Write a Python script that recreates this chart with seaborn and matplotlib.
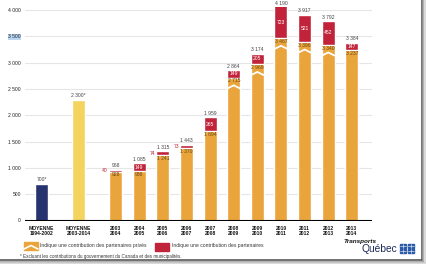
import matplotlib
matplotlib.use("Agg")
import matplotlib.pyplot as plt
from matplotlib.patches import Rectangle
from matplotlib.lines import Line2D
import seaborn as sns
import numpy as np

# data
avg_labels = ["MOYENNE\n1994-2002", "MOYENNE\n2003-2014"]
avg_values = [700, 2300]
avg_text = ["700*", "2 300*"]

years = ["2003\n2004", "2004\n2005", "2005\n2006", "2006\n2007", "2007\n2008",
         "2008\n2009", "2009\n2010", "2010\n2011", "2011\n2012", "2012\n2013",
         "2013\n2014"]
prive = [928, 936, 1241, 1370, 1694, 2715, 2969, 3467, 3396, 3340, 3237]
partenaires = [40, 149, 74, 73, 265, 149, 205, 723, 521, 452, 147]
totals = [968, 1085, 1315, 1443, 1959, 2864, 3174, 4190, 3917, 3792, 3384]
broken = [False] * 5 + [True] * 5 + [False]

NAVY = "#27336f"
YELLOW = "#f4d35f"
ORANGE = "#e9a43b"
RED = "#c0233a"
GRID = "#e6e6e6"

def fmt(v):
    return f"{v:,}".replace(",", " ")

sns.set_theme(style="white")
plt.rcParams["font.family"] = ["Liberation Sans", "DejaVu Sans"]

fig = plt.figure(figsize=(4.26, 2.64), dpi=100)
ax = fig.add_axes([25 / 426, 43.5 / 264, 347 / 426, 213.5 / 264])

ytop = 4060
x_year = np.arange(len(years))
x_avg = np.array([-3.13, -1.56])
w = 0.55

# bars
sns.barplot(x=x_avg[:1], y=avg_values[:1], native_scale=True, width=w,
            color=NAVY, saturation=1, ax=ax, zorder=2)
sns.barplot(x=x_avg[1:], y=avg_values[1:], native_scale=True, width=w,
            color=YELLOW, saturation=1, ax=ax, zorder=2)
sns.barplot(x=x_year, y=totals, native_scale=True, width=w,
            color=RED, saturation=1, ax=ax, zorder=2)
sns.barplot(x=x_year, y=prive, native_scale=True, width=w,
            color=ORANGE, saturation=1, ax=ax, zorder=3)

ax.set_xlim(-3.83, 10.85)
ax.set_ylim(0, ytop)
for s in ax.spines.values():
    s.set_visible(False)

# grid and baseline
for g in range(500, 4001, 500):
    ax.axhline(g, color=GRID, lw=0.8, zorder=0)
ax.axhline(0, color="black", lw=1.5, zorder=4)

yt = list(range(0, 4001, 500))
ax.set_yticks(yt)
ax.set_yticklabels([fmt(v) for v in yt], fontsize=3.6, color="#222")
ax.tick_params(axis="y", length=0, pad=3)
for lab in ax.get_yticklabels():
    if lab.get_text() == "3 500":
        lab.set_bbox(dict(facecolor="#b9d6f2", edgecolor="none", pad=0.3))

ax.set_xticks(list(x_avg) + list(x_year))
ax.set_xticklabels(avg_labels + years, fontsize=3.6, fontweight="bold",
                   linespacing=1.1, color="#111")
ax.tick_params(axis="x", length=0, pad=4)
ax.set_xlabel("")
ax.set_ylabel("")

lab_kw = dict(textcoords="offset points", fontsize=3.6, clip_on=False)

for xp, v, t in zip(x_avg, avg_values, avg_text):
    ax.annotate(t, (xp, v), xytext=(0, 1), ha="center", va="bottom",
                color="#444", **lab_kw)

for xp, p, r, tot, br in zip(x_year, prive, partenaires, totals, broken):
    top = min(tot, ytop)
    ax.annotate(fmt(tot), (xp, top), xytext=(0, 1), ha="center", va="bottom",
                color="#444", **lab_kw)
    if r >= 100:
        ax.annotate(str(r), (xp, (p + top) / 2), xytext=(0, 0), ha="center",
                    va="center", color="white", **lab_kw)
    else:
        ax.annotate(str(r), (xp - w / 2, p + r / 2), xytext=(-0.8, 0),
                    ha="right", va="center", color=RED, **lab_kw)
    ax.annotate(fmt(p), (xp, p), xytext=(0, -0.5), ha="center", va="top",
                color="#6a4512", zorder=5, **lab_kw)
    if br:
        ax.plot([xp - w / 2, xp, xp + w / 2],
                [p - 205, p - 145, p - 205], color="white", lw=1.3,
                zorder=5, solid_joinstyle="miter")

# legend drawn in figure pixels
def fx(px):
    return px / 426

def fy(py):
    return 1 - py / 264

fig.patches.append(Rectangle((fx(24), fy(250)), 14 / 426, 8 / 264,
                             transform=fig.transFigure, color=ORANGE))
fig.lines.append(Line2D([fx(24), fx(31), fx(38)], [fy(249), fy(245.5), fy(249)],
                        transform=fig.transFigure, color="white", lw=1.2))
fig.text(fx(40), fy(246), "Indique une contribution des partenaires privés",
         fontsize=3.6, color="#333", va="center")
fig.patches.append(Rectangle((fx(155), fy(251)), 14 / 426, 8 / 264,
                             transform=fig.transFigure, color=RED))
fig.text(fx(172), fy(246), "Indique une contribution des partenaires",
         fontsize=3.6, color="#333", va="center")
fig.text(fx(20), fy(256.5),
         "* Excluant les contributions du gouvernement du Canada et des municipalités.",
         fontsize=3.3, color="#333", va="center")

# Transports Québec signature
fig.text(fx(377), fy(241.5), "Transports", fontsize=4.6, fontweight="bold",
         fontstyle="italic", color="#111", ha="right", va="center")
fig.text(fx(397), fy(248.5), "Québec", fontsize=7.4, color="#1d2a5c",
         ha="right", va="center")
for cx in (399.5, 407.5):
    for cy in (243.5, 248.5):
        fig.patches.append(Rectangle((fx(cx), fy(cy + 4)), 6.5 / 426, 4 / 264,
                                     transform=fig.transFigure, color="#2a5aa8"))
        fig.lines.append(Line2D([fx(cx + 3.25)] * 2, [fy(cy + 4), fy(cy)],
                                transform=fig.transFigure, color="white", lw=0.4))
        fig.lines.append(Line2D([fx(cx), fx(cx + 6.5)], [fy(cy + 2)] * 2,
                                transform=fig.transFigure, color="white", lw=0.4))

# page edge shadow
for off, col in [(0, "#4a4a4a"), (1.5, "#9a9a9a"), (3, "#cfcfcf")]:
    fig.lines.append(Line2D([fx(421.5 + off)] * 2, [fy(0), fy(260 + off)],
                            transform=fig.transFigure, color=col, lw=1.1))
    fig.lines.append(Line2D([fx(0), fx(421.5 + off)], [fy(260 + off)] * 2,
                            transform=fig.transFigure, color=col, lw=1.1))

fig.savefig("out.png", dpi=100)
